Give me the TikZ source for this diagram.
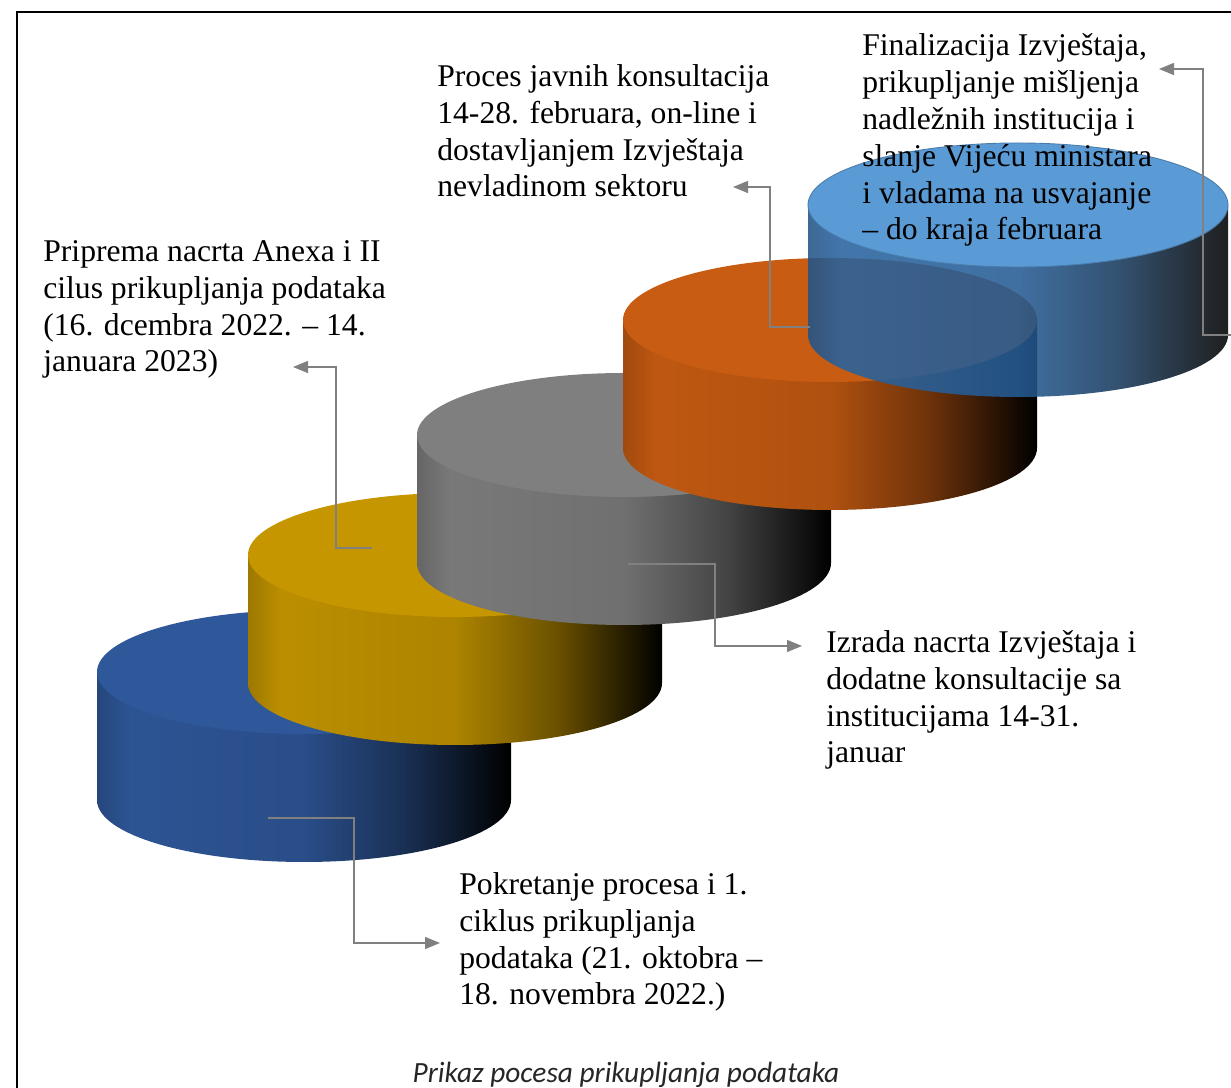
\documentclass[tikz,border=0pt]{standalone}
\usepackage{fontspec}
\setmainfont{Liberation Serif}
\newfontfamily\capfont{Carlito}
\usetikzlibrary{arrows.meta, calc}

\definecolor{discblue}{RGB}{47,88,155}
\definecolor{discgold}{RGB}{197,150,0}
\definecolor{discgray}{RGB}{127,127,127}
\definecolor{discorange}{RGB}{200,92,18}
\definecolor{disclight}{RGB}{42,104,168}
\definecolor{disctop}{RGB}{91,155,213}
\colorlet{discbase}{black}
\pgfdeclarehorizontalshading[discbase]{discshade}{100bp}{color(0bp)=(discbase!80!black); color(25bp)=(discbase!80!black); color(29bp)=(discbase!95!black); color(50bp)=(discbase!88!black); color(62bp)=(discbase!55!black); color(75bp)=(black); color(100bp)=(black)}

\tikzset{
  conn/.style={draw=gray, line width=0.8pt, -{Triangle[length=0.3cm, width=0.24cm]}},
  steptext/.style={anchor=base west, align=left, inner sep=0, font=\fontsize{18pt}{21pt}\selectfont}
}

\begin{document}
\begin{tikzpicture}[x=0.02cm, y=0.02cm]
  \useasboundingbox (0,0) rectangle (1231,1088);
  \draw[line width=0.04cm] (17,0) -- (17,1076) -- (1231,1076);

  % discs, bottom left to top right
  \foreach \cx/\cy/\col in {304/416/discblue, 455/533/discgold, 624/653/discgray, 830/768/discorange}{
    \colorlet{discbase}{\col}
    \shade[shading=discshade] (\cx-207,\cy) -- (\cx-207,\cy-128)
      arc[start angle=180, end angle=360, x radius=207, y radius=62] -- (\cx+207,\cy) -- cycle;
    \fill[\col] (\cx,\cy) ellipse[x radius=207, y radius=62];
  }
  \colorlet{discbase}{disclight}
  \shade[shading=discshade, fill opacity=0.88] (808,883) -- (808,753)
    arc[start angle=180, end angle=360, x radius=210, y radius=62] -- (1228,883) -- cycle;
  \filldraw[fill=disctop, draw=disctop!80!black, line width=0.5pt] (1018,883) ellipse[x radius=210, y radius=62];

  % texts (base = last line)
  \node[steptext] (t1) at (459,83) {Pokretanje procesa i 1.\\ciklus prikupljanja\\podataka (21. oktobra –\\18. novembra 2022.)};
  \node[steptext] (t2) at (43,716) {Priprema nacrta Anexa i II\\cilus prikupljanja podataka\\(16. dcembra 2022. – 14.\\januara 2023)};
  \node[steptext] (t3) at (826,325) {Izrada nacrta Izvještaja i\\dodatne konsultacije sa\\institucijama 14-31.\\januar};
  \node[steptext] (t4) at (437,891) {Proces javnih konsultacija\\14-28. februara, on-line i\\dostavljanjem Izvještaja\\nevladinom sektoru};
  \node[steptext] (t5) at (862,848) {Finalizacija Izvještaja,\\prikupljanje mišljenja\\nadležnih institucija i\\slanje Vijeću ministara\\i vladama na usvajanje\\– do kraja februara};

  % connectors
  \coordinate (s1) at (268,270);
  \coordinate (e1) at (440,145);
  \coordinate (s2) at (372,540);
  \coordinate (e2) at (293,721);
  \coordinate (s3) at (628,524);
  \coordinate (e3) at (802,442);
  \coordinate (s4) at (810,761);
  \coordinate (e4) at (733,901);
  \coordinate (s5) at (1231,753);
  \coordinate (e5) at (1159,1019);
  \draw[conn] (s1) -- ++(86,0) |- (e1);
  \draw[conn] (s2) -- ++(-36,0) |- (e2);
  \draw[conn] (s3) -- ++(87,0) |- (e3);
  \draw[conn] (s4) -- ++(-40,0) |- (e4);
  \draw[conn] (s5) -- ++(-28,0) |- (e5);

  \node[font=\capfont\itshape\fontsize{16.7pt}{19pt}\selectfont, text=black!85, anchor=base] (cap) at (626,5) {Prikaz pocesa prikupljanja podataka};
\end{tikzpicture}
\end{document}
